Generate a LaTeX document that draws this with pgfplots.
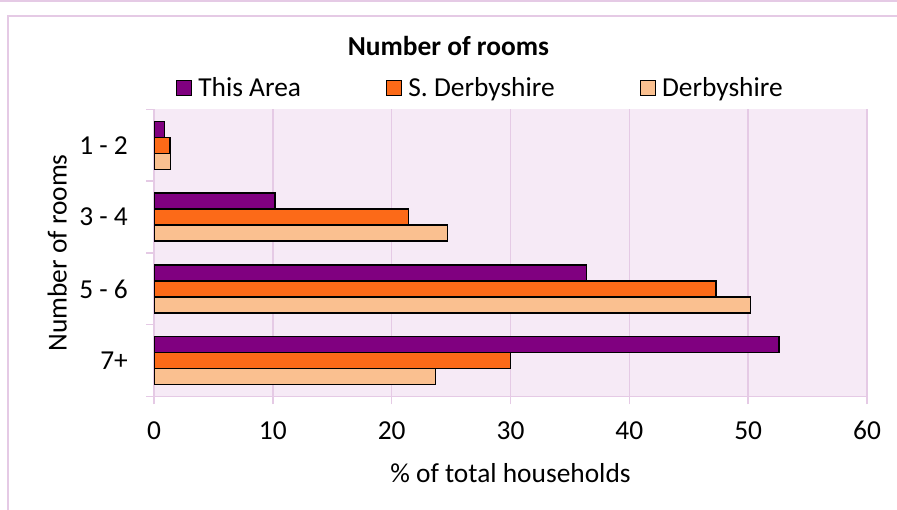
\documentclass[border=0pt]{standalone}
\usepackage{pgfplots}
\pgfplotsset{compat=1.18}
\usepackage{fontspec}
\setmainfont{Carlito}
\definecolor{areapurple}{RGB}{128,0,128}
\definecolor{sderby}{RGB}{252,106,24}
\definecolor{derby}{RGB}{250,192,144}
\definecolor{bgpink}{RGB}{246,234,246}
\definecolor{gridpink}{RGB}{229,202,229}
\newcommand\chartfont{\fontsize{27.5}{33}\selectfont}
\pgfplotsset{sqlegend/.style={legend image code/.code={\draw[##1,/tikz/.cd,draw=black,line width=1.3bp] (0bp,-7.5bp) rectangle (15bp,7.5bp);}}}
\begin{document}
\begin{tikzpicture}[x=1bp,y=1bp]
\useasboundingbox (0,0) rectangle (897,510);
\draw[gridpink, line width=1.5bp] (0,509) -- (897,509);
\draw[gridpink, line width=1.5bp] (8,0) -- (8,494) -- (897,494);
\begin{axis}[
  at={(154bp,113.5bp)}, anchor=south west,
  scale only axis, width=713bp, height=287bp,
  xbar, bar width=0.222,
  xmin=0, xmax=60, ymin=-0.5, ymax=3.5,
  xtick={0,10,...,60},
  ytick={-0.5,0.5,1.5,2.5,3.5}, yticklabels={},
  extra y ticks={0,1,2,3},
  extra y tick labels={7+,5 - 6,3 - 4,1 - 2},
  extra y tick style={major tick length=0pt, yticklabel style={anchor=east, inner sep=0pt, xshift=-26bp}},
  axis lines*=left,
  axis line style={gridpink, line width=1.5bp, -},
  tick style={gridpink, line width=1.5bp},
  major tick length=8bp,
  tick align=outside,
  xmajorgrids, grid style={gridpink, line width=1.5bp},
  axis background/.style={fill=bgpink},
  font=\chartfont,
  tick label style={font=\chartfont, text=black},
  xticklabel style={anchor=base, yshift=-35.5bp},
  /pgf/number format/assume math mode=true,
  xlabel={\% of total households},
  xlabel style={at={(axis description cs:0.5,0)}, anchor=base, yshift=-86bp},
  ylabel={Number of rooms},
  ylabel style={at={(axis description cs:-0.1224,0.5)}, anchor=base, rotate=0},
  title={Number of rooms},
  title style={font=\bfseries\chartfont, at={(axis description cs:0.413,1)}, anchor=base, yshift=48bp},
  legend style={at={(axis description cs:0.0309,1.075)}, anchor=west, draw=none, fill=none,
    inner sep=0pt, outer sep=0pt, font=\chartfont, legend columns=3,
    nodes={inner sep=0pt},
    /tikz/every odd column/.append style={column sep=6bp},
    /tikz/every even column/.append style={column sep=85bp}},
]
\addplot[xbar, fill=areapurple, draw=black, line width=1.5bp, bar shift=0.222, sqlegend]
  coordinates {(52.6,0) (36.4,1) (10.2,2) (0.87,3)};
\addplot[xbar, fill=sderby, draw=black, line width=1.5bp, bar shift=0, sqlegend]
  coordinates {(30.0,0) (47.3,1) (21.4,2) (1.35,3)};
\addplot[xbar, fill=derby, draw=black, line width=1.5bp, bar shift=-0.222, sqlegend]
  coordinates {(23.7,0) (50.2,1) (24.7,2) (1.4,3)};
\legend{This Area, S. Derbyshire, Derbyshire}
\end{axis}
\end{tikzpicture}
\end{document}
